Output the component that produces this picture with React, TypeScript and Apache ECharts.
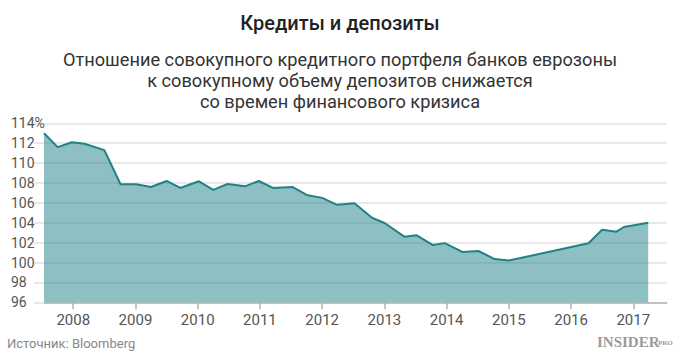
import React, { useEffect, useRef } from "react";
import * as echarts from "echarts";

// decimal-year positions of the observations
const dates: number[] = [
  2007.53, 2007.75, 2007.98, 2008.18, 2008.5, 2008.76, 2009.01, 2009.25, 2009.5, 2009.72,
  2010.02, 2010.25, 2010.48, 2010.76, 2010.98, 2011.21, 2011.52, 2011.75, 2012.0, 2012.24,
  2012.52, 2012.8, 2013.01, 2013.32, 2013.52, 2013.78, 2013.97, 2014.26, 2014.51, 2014.77,
  2015.0, 2016.28, 2016.5, 2016.73, 2016.85, 2017.24,
];
// loans-to-deposits ratio, %
const ratio: number[] = [
  113.0, 111.6, 112.1, 111.95, 111.3, 107.87, 107.87, 107.6, 108.2, 107.5,
  108.17, 107.3, 107.9, 107.66, 108.2, 107.5, 107.6, 106.8, 106.5, 105.8,
  105.95, 104.5, 103.95, 102.6, 102.74, 101.76, 101.95, 101.05, 101.16, 100.35,
  100.2, 101.93, 103.3, 103.1, 103.57, 104.0,
];
const yearTicks: number[] = [2008, 2009, 2010, 2011, 2012, 2013, 2014, 2015, 2016, 2017];

const titleText = "Кредиты и депозиты";
const subtitleLines: string[] = [
  "Отношение совокупного кредитного портфеля банков еврозоны",
  "к совокупному объему депозитов снижается",
  "со времен финансового кризиса",
];
const sourceText = "Источник: Bloomberg";

export default function App() {
  const ref = useRef<HTMLDivElement>(null);
  useEffect(() => {
    document.body.style.margin = "0";
    if (!ref.current) return;
    const chart = echarts.init(ref.current, undefined, { renderer: "svg" });
    const lineColor = "#1e8287";
    const subtitleGraphics = subtitleLines.map((line, i) => ({
      type: "text",
      x: 340,
      y: 59.5 + i * 21,
      style: {
        text: line,
        fill: "#333",
        font: "18.2px Roboto",
        textAlign: "center",
        textVerticalAlign: "middle",
      },
    }));
    chart.setOption({
      animation: false,
      backgroundColor: "#ffffff",
      textStyle: { fontFamily: "Roboto" },
      grid: { left: 44, right: 13.3, top: 123.3, bottom: 56.7, containLabel: false },
      xAxis: {
        type: "value",
        min: 2007.53,
        max: 2017.537,
        splitLine: { show: false },
        axisLine: { show: true, lineStyle: { color: "#b5b5b5", width: 1.5 } },
        axisTick: {
          show: true,
          customValues: yearTicks,
          length: 7,
          lineStyle: { color: "#b5b5b5", width: 1.5 },
        },
        axisLabel: {
          customValues: yearTicks,
          formatter: (v: number) => String(Math.round(v)),
          color: "#555",
          fontSize: 15,
          fontFamily: "Roboto",
          margin: 10,
        },
      },
      yAxis: {
        type: "value",
        min: 96,
        max: 114,
        interval: 2,
        axisLine: { show: false },
        axisTick: { show: true, length: 10, lineStyle: { color: "#e2e2e2", width: 1.5 } },
        splitLine: { show: true, lineStyle: { color: "#e2e2e2", width: 1.5 } },
        axisLabel: {
          align: "left",
          margin: 33,
          color: "#555",
          fontSize: 14,
          fontFamily: "Roboto",
          formatter: (v: number) => (v === 114 ? "114%" : String(v)),
        },
      },
      series: [
        {
          type: "line",
          data: dates.map((d, i) => [d, ratio[i]]),
          showSymbol: false,
          symbol: "none",
          lineStyle: { color: lineColor, width: 2 },
          itemStyle: { color: lineColor },
          areaStyle: { color: lineColor, opacity: 0.5, origin: "start" },
        },
      ],
      graphic: [
        {
          type: "text",
          x: 340,
          y: 23,
          style: {
            text: titleText,
            fill: "#222",
            font: "500 20px Roboto",
            textAlign: "center",
            textVerticalAlign: "middle",
          },
        },
        ...subtitleGraphics,
        {
          type: "text",
          left: 7,
          top: 337,
          style: { text: sourceText, fill: "#888", font: "13px Roboto" },
        },
        {
          type: "text",
          left: 597,
          top: 334,
          style: { text: "INSIDER", fill: "#9a9a9a", font: "bold 15px 'Liberation Serif'" },
        },
        {
          type: "text",
          left: 658,
          top: 339,
          style: { text: "PRO", fill: "#9a9a9a", font: "bold 7px 'Liberation Serif'" },
        },
      ],
    });
    return () => chart.dispose();
  }, []);
  return (
    <div
      ref={ref}
      style={{ position: "fixed", left: 0, top: 0, width: 680, height: 359 }}
    />
  );
}
